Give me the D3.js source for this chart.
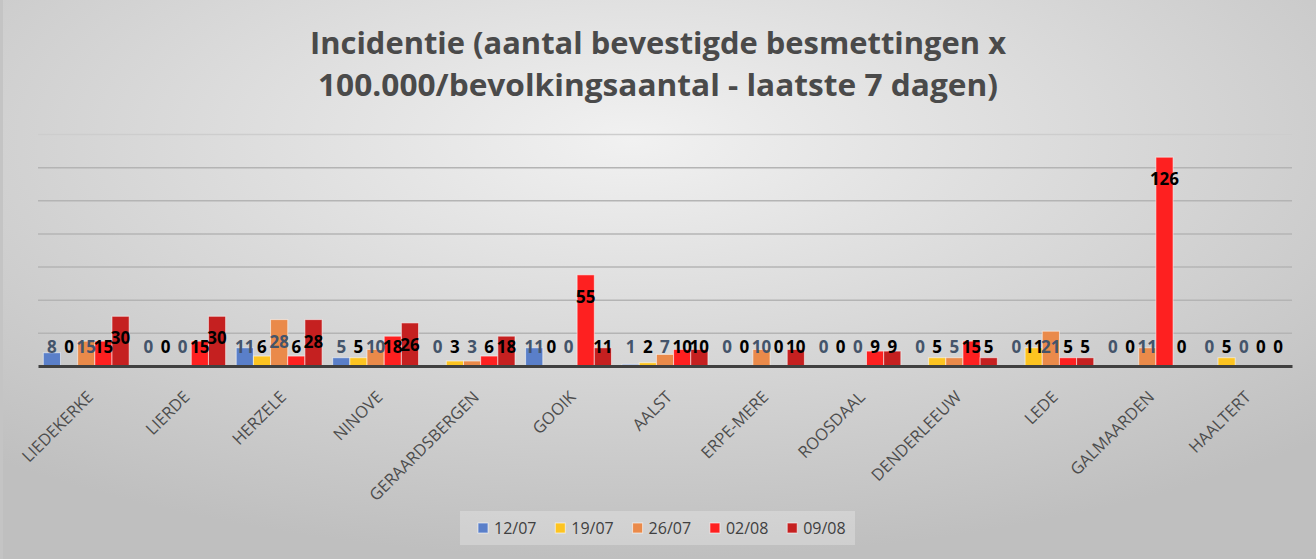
<!DOCTYPE html>
<html>
<head>
<meta charset="utf-8">
<script src="https://cdn.jsdelivr.net/npm/d3@7"></script>
<style>
  body { margin: 0; padding: 0; overflow: hidden; }
  svg { display: block; }
</style>
</head>
<body>
<div id="container"></div>
<script>
var gemeenten = ["LIEDEKERKE", "LIERDE", "HERZELE", "NINOVE", "GERAARDSBERGEN", "GOOIK", "AALST",
    "ERPE-MERE", "ROOSDAAL", "DENDERLEEUW", "LEDE", "GALMAARDEN", "HAALTERT"];
var weken = ["12/07", "19/07", "26/07", "02/08", "09/08"];

var w1207 = [8, 0, 11, 5, 0, 11, 1, 0, 0, 0, 0, 0, 0];
var w1907 = [0, 0, 6, 5, 3, 0, 2, 0, 0, 5, 11, 0, 5];
var w2607 = [15, 0, 28, 10, 3, 0, 7, 10, 0, 5, 21, 11, 0];
var w0208 = [15, 15, 6, 18, 6, 55, 10, 0, 9, 15, 5, 126, 0];
var w0908 = [30, 30, 28, 26, 18, 11, 10, 10, 9, 5, 5, 0, 0];

var yTicks = [0, 20, 40, 60, 80, 100, 120, 140];
var titel = ["Incidentie (aantal bevestigde besmettingen x", "100.000/bevolkingsaantal - laatste 7 dagen)"];

var reeksen = [w1207, w1907, w2607, w0208, w0908];
var kleuren = ["#5a7fc9", "#fdc421", "#ea8a4a", "#fe2020", "#c52020"];
var labelKleur = ["#44546a", "#000000", "#44546a", "#000000", "#000000"];

var W = 1316, H = 559;
var margin = { top: 134, right: 24, bottom: 193, left: 38 };

var svg = d3.select("#container").append("svg")
    .attr("width", W)
    .attr("height", H);

// background gradient
var defs = svg.append("defs");
var grad = defs.append("radialGradient")
    .attr("id", "bg")
    .attr("cx", "48%").attr("cy", "25%").attr("r", "75%");
grad.append("stop").attr("offset", "0%").attr("stop-color", "#f1f1f1");
grad.append("stop").attr("offset", "100%").attr("stop-color", "#bfbfbf");

svg.append("rect")
    .attr("width", W).attr("height", H)
    .attr("fill", "url(#bg)");
svg.append("rect")
    .attr("x", 0).attr("y", 0).attr("width", 3).attr("height", H)
    .attr("fill", "#c4c4c4");

// title
svg.append("g").selectAll("text")
    .data(titel)
    .enter()
    .append("text")
    .attr("x", 658)
    .attr("y", function (d, i) { return 54 + i * 42; })
    .attr("text-anchor", "middle")
    .attr("textLength", function (d, i) { return i == 0 ? 696 : 680; })
    .attr("lengthAdjust", "spacingAndGlyphs")
    .style("font", "bold 31px 'Open Sans', sans-serif")
    .style("fill", "#4a4a4a")
    .text(function (d) { return d; });

var width = W - margin.left - margin.right;
var height = H - margin.top - margin.bottom;

var g = svg.append("g")
    .attr("transform", "translate(" + margin.left + "," + margin.top + ")");

var x = d3.scaleBand()
    .domain(gemeenten)
    .range([0, width])
    .paddingInner(0.11)
    .paddingOuter(0.055);

var x1 = d3.scaleBand()
    .domain(weken)
    .range([0, x.bandwidth()]);

var y = d3.scaleLinear()
    .domain([0, 140])
    .range([height, 0]);

// gridlines
g.append("g")
    .call(d3.axisLeft(y).tickValues(yTicks.slice(1)).tickSize(-width).tickFormat(""))
    .call(function (a) { a.select(".domain").remove(); })
    .selectAll("line")
    .attr("stroke", function (d) { return d == 140 ? "#cdcdcd" : "#b4b4b4"; })
    .attr("stroke-width", 1.5);

// bars
var groepen = g.selectAll("g.groep")
    .data(gemeenten)
    .enter()
    .append("g")
    .attr("class", "groep")
    .attr("transform", function (d) { return "translate(" + x(d) + ",0)"; });

weken.forEach(function (wk, s) {
    groepen.append("rect")
        .attr("x", x1(wk))
        .attr("y", function (d, i) { return y(reeksen[s][i]); })
        .attr("width", x1.bandwidth())
        .attr("height", function (d, i) { return height - y(reeksen[s][i]); })
        .attr("fill", kleuren[s])
        .attr("stroke", "rgba(255,255,255,0.55)")
        .attr("stroke-width", 1);
});

// data labels
weken.forEach(function (wk, s) {
    groepen.append("text")
        .attr("x", x1(wk) + x1.bandwidth() / 2)
        .attr("y", function (d, i) { return Math.min(y(reeksen[s][i]) + 22, height - 19); })
        .attr("dy", "0.36em")
        .attr("text-anchor", "middle")
        .style("font", "bold 17px 'Open Sans', sans-serif")
        .style("fill", labelKleur[s])
        .text(function (d, i) { return reeksen[s][i]; });
});

// x axis
var xAxis = g.append("g")
    .attr("transform", "translate(0," + height + ")")
    .call(d3.axisBottom(x).tickSize(0).tickPadding(0));
xAxis.select(".domain")
    .attr("stroke", "#404040")
    .attr("stroke-width", 3);
xAxis.selectAll("text")
    .attr("transform", "translate(4,28) rotate(-45)")
    .attr("dy", "0.35em")
    .style("text-anchor", "end")
    .style("font", "16.5px 'Open Sans', sans-serif")
    .style("fill", "#4d4d4d");

// legend
var legend = svg.append("g");
legend.append("rect")
    .attr("x", 460).attr("y", 511)
    .attr("width", 395).attr("height", 34)
    .attr("fill", "rgba(255,255,255,0.25)");

var items = legend.selectAll("g.item")
    .data(weken)
    .enter()
    .append("g")
    .attr("class", "item")
    .attr("transform", function (d, i) { return "translate(" + (478 + i * 77.3) + ",523)"; });
items.append("rect")
    .attr("width", 10).attr("height", 10)
    .attr("fill", function (d, i) { return kleuren[i]; })
    .attr("stroke", "rgba(255,255,255,0.6)");
items.append("text")
    .attr("x", 16).attr("y", 5)
    .attr("dy", "0.36em")
    .style("font", "16px 'Open Sans', sans-serif")
    .style("fill", "#404040")
    .text(function (d) { return d; });
</script>
</body>
</html>
